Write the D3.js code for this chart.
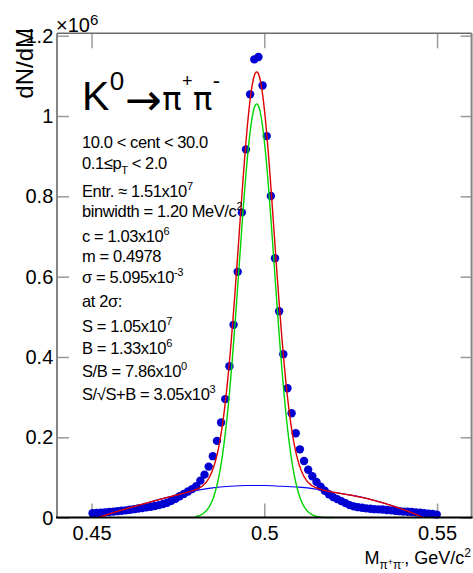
<!DOCTYPE html>
<html>
<head>
<meta charset="utf-8">
<script src="https://cdn.jsdelivr.net/npm/d3@7"></script>
<style>
  html, body { margin: 0; padding: 0; background: #fff; }
  svg { display: block; }
</style>
</head>
<body>
<svg id="chart" width="473" height="573"></svg>
<script>
// ---- K0s -> pi+ pi- invariant-mass histogram ----
const binLow = 0.4503;     // centre of the first bin, GeV/c^2
const binWidth = 0.0012;   // GeV/c^2
// entries per bin, in units of 10^6
const counts = [
  0.011, 0.0115, 0.012, 0.013, 0.014, 0.015, 0.016, 0.017, 0.018, 0.0195,
  0.021, 0.0225, 0.024, 0.0255, 0.027, 0.029, 0.031, 0.034, 0.037, 0.042,
  0.047, 0.053, 0.059, 0.065, 0.071, 0.078, 0.092, 0.107, 0.127, 0.153,
  0.191, 0.237, 0.295, 0.377, 0.480, 0.612, 0.760, 0.917, 1.054, 1.141,
  1.147, 1.076, 0.950, 0.801, 0.646, 0.514, 0.407, 0.322, 0.260, 0.210,
  0.170, 0.141, 0.119, 0.103, 0.089, 0.077, 0.067, 0.058, 0.051, 0.046,
  0.041, 0.036, 0.031, 0.028, 0.026, 0.0245, 0.023, 0.022, 0.021, 0.0205,
  0.020, 0.019, 0.018, 0.017, 0.016, 0.015, 0.0145, 0.014, 0.013, 0.012,
  0.011, 0.010, 0.009, 0.0075
];

// Gaussian signal fit (amplitude in 10^6, mean and sigma in GeV/c^2)
const fitC = 1.03;
const fitM = 0.4978;
const fitSigma = 5.095e-3;
const signalRange = [0.48, 0.52];

// residual background fit curve, sampled (mass, value in 10^6)
const bgMass = [0.4519, 0.455, 0.460, 0.465, 0.470, 0.475, 0.480, 0.485, 0.490, 0.495,
                0.500, 0.505, 0.510, 0.515, 0.520, 0.525, 0.530, 0.535, 0.540, 0.5445, 0.5458];
const bgVals = [0, 0.009, 0.022, 0.034, 0.046, 0.057, 0.067, 0.074, 0.078, 0.080,
                0.080, 0.078, 0.076, 0.071, 0.063, 0.056, 0.047, 0.035, 0.021, 0.006, 0];

const xTicks = [0.45, 0.5, 0.55];
const yTicks = [0, 0.2, 0.4, 0.6, 0.8, 1, 1.2];

// statistics box, one entry per line: [text, "sup" | "sub" | undefined]
const infoLines = [
  [["10.0 < cent < 30.0"]],
  [["0.1\u2264p"], ["T", "sub"], [" < 2.0"]],
  [["Entr. \u2248 1.51x10"], ["7", "sup"]],
  [["binwidth = 1.20 MeV/c"], ["2", "sup"]],
  [["c = " + fitC.toFixed(2) + "x10"], ["6", "sup"]],
  [["m = " + fitM.toFixed(4)]],
  [["\u03c3 = " + (fitSigma * 1e3).toFixed(3) + "x10"], ["-3", "sup"]],
  [["at 2\u03c3:"]],
  [["S = 1.05x10"], ["7", "sup"]],
  [["B = 1.33x10"], ["6", "sup"]],
  [["S/B = 7.86x10"], ["0", "sup"]],
  [["S/\u221aS+B = 3.05x10"], ["3", "sup"]]
];
const infoBaselines = [148, 168.5, 196.5, 216.5, 242, 262, 283, 306.5, 332, 353.5, 376.5, 400];

const FONT = "'Liberation Sans', Arial, Helvetica, sans-serif";
const SYM = "'DejaVu Sans', 'Liberation Sans', sans-serif";
const svg = d3.select("#chart").attr("font-family", FONT);

const x = d3.scaleLinear().domain([0.44, 0.56]).range([57, 471.6]);
const y = d3.scaleLinear().domain([0, 1.206]).range([517.6, 33.3]);
const [X0, X1] = x.range();
const [Y0, Y1] = y.range();

// ---- axes ----
const fmt = d3.format("~g");
function styleAxis(g, size) {
  g.attr("font-family", FONT).attr("font-size", size);
  g.select(".domain").remove();
  g.selectAll(".tick line").attr("stroke", "#9a9a9a").attr("stroke-width", 1.5);
  g.selectAll(".tick text").attr("fill", "#000");
}
styleAxis(svg.append("g").attr("transform", `translate(0,${Y0})`)
  .call(d3.axisBottom(x).tickValues(xTicks).tickSizeInner(-14).tickSizeOuter(0)
    .tickPadding(8).tickFormat(fmt)), 20);
styleAxis(svg.append("g").attr("transform", `translate(0,${Y1})`)
  .call(d3.axisTop(x).tickValues(xTicks).tickSizeInner(-15).tickSizeOuter(0)
    .tickFormat("")), 20);
styleAxis(svg.append("g").attr("transform", `translate(${X0},0)`)
  .call(d3.axisLeft(y).tickValues(yTicks).tickSizeInner(-12).tickSizeOuter(0)
    .tickPadding(3.7).tickFormat(fmt)), 20);
styleAxis(svg.append("g").attr("transform", `translate(${X1},0)`)
  .call(d3.axisRight(y).tickValues(yTicks).tickSizeInner(-11).tickSizeOuter(0)
    .tickFormat("")), 20);

// frame
svg.append("line").attr("x1", X0).attr("x2", X0).attr("y1", Y1).attr("y2", Y0)
  .attr("stroke", "#858585").attr("stroke-width", 2);
svg.append("line").attr("x1", X1).attr("x2", X1).attr("y1", Y1).attr("y2", Y0)
  .attr("stroke", "#858585").attr("stroke-width", 2);
svg.append("line").attr("x1", X0).attr("x2", X1).attr("y1", Y1).attr("y2", Y1)
  .attr("stroke", "#6a6a6a").attr("stroke-width", 1.5);

// ---- histogram points ----
const points = counts.map((v, i) => ({ m: binLow + i * binWidth, v }));
svg.append("g").selectAll("circle").data(points).join("circle")
  .attr("cx", d => x(d.m)).attr("cy", d => y(d.v)).attr("r", 4.2)
  .attr("fill", "#0000d2");

// ---- fit curves ----
const gauss = m => fitC * Math.exp(-0.5 * ((m - fitM) / fitSigma) ** 2);
const bgAt = d3.scaleLinear().domain(bgMass).range(bgVals).clamp(true);
const line = d3.line().x(d => x(d[0])).y(d => y(d[1])).curve(d3.curveMonotoneX);

// background
svg.append("path").datum(bgMass.map((m, i) => [m, bgVals[i]]))
  .attr("d", line).attr("fill", "none").attr("stroke", "#0000ff").attr("stroke-width", 1.1);

// signal
const sigGrid = d3.range(signalRange[0], signalRange[1] + 1e-9, 0.0002);
svg.append("path").datum(sigGrid.map(m => [m, gauss(m)]))
  .attr("d", line).attr("fill", "none").attr("stroke", "#00d400").attr("stroke-width", 1.4);

// signal + background
const totGrid = d3.range(bgMass[0], bgMass[bgMass.length - 1] + 1e-9, 0.0002);
svg.append("path").datum(totGrid.map(m => [m, gauss(m) + bgAt(m)]))
  .attr("d", line).attr("fill", "none").attr("stroke", "#dd0000").attr("stroke-width", 1.4);

// bottom axis line drawn over the curves
svg.append("line").attr("x1", X0 - 1).attr("x2", X1 + 1).attr("y1", Y0).attr("y2", Y0)
  .attr("stroke", "#000").attr("stroke-width", 2);

// ---- axis titles ----
svg.append("text").attr("transform", "translate(33,28) rotate(-90)")
  .attr("text-anchor", "end").attr("font-size", 24).text("dN/dM");

const expo = svg.append("text").attr("x", 56).attr("y", 31.5).attr("font-size", 20);
expo.append("tspan").text("\u00d710");
expo.append("tspan").attr("font-size", 15).attr("dy", -7).text("6");

const xt = svg.append("text").attr("x", 471).attr("y", 564)
  .attr("text-anchor", "end").attr("font-size", 18);
xt.append("tspan").text("M");
xt.append("tspan").attr("font-size", 12).attr("dy", 5).text("\u03c0");
xt.append("tspan").attr("font-size", 9).attr("dy", -4).text("+");
xt.append("tspan").attr("font-size", 12).attr("dy", 4).text("\u03c0");
xt.append("tspan").attr("font-size", 9).attr("dy", -4).text("-");
xt.append("tspan").attr("font-size", 18).attr("dy", -1).text(", GeV/c");
xt.append("tspan").attr("font-size", 12).attr("dy", -7).text("2");

// ---- decay label, typeset left to right ----
const big = svg.append("text").attr("x", 82).attr("y", 110).attr("font-size", 41);
big.append("tspan").text("K");
big.append("tspan").attr("dx", 0.5).attr("dy", -20).attr("font-size", 26).text("0");
big.append("tspan").attr("dx", 0.5).attr("dy", 24.5).attr("font-size", 44)
  .attr("font-family", SYM).text("\u2192");
big.append("tspan").attr("dx", 0.5).attr("dy", -4.5).attr("font-size", 32)
  .attr("font-family", SYM).text("\u03c0");
big.append("tspan").attr("dx", 0.5).attr("dy", -23).attr("font-size", 18).text("+");
big.append("tspan").attr("dx", 0.5).attr("dy", 23).attr("font-size", 32)
  .attr("font-family", SYM).text("\u03c0");
big.append("tspan").attr("dx", 0.5).attr("dy", -22).attr("font-size", 22).text("-");

// ---- statistics text ----
infoLines.forEach((segs, i) => {
  const t = svg.append("text").attr("x", 82).attr("y", infoBaselines[i])
    .attr("font-size", 16.5).attr("letter-spacing", -0.4);
  let shift = 0;
  segs.forEach(([txt, mode]) => {
    const target = mode === "sup" ? -7 : mode === "sub" ? 5 : 0;
    t.append("tspan").attr("dy", target - shift)
      .attr("font-size", mode ? 11 : 16.5).text(txt);
    shift = target;
  });
});
</script>
</body>
</html>
